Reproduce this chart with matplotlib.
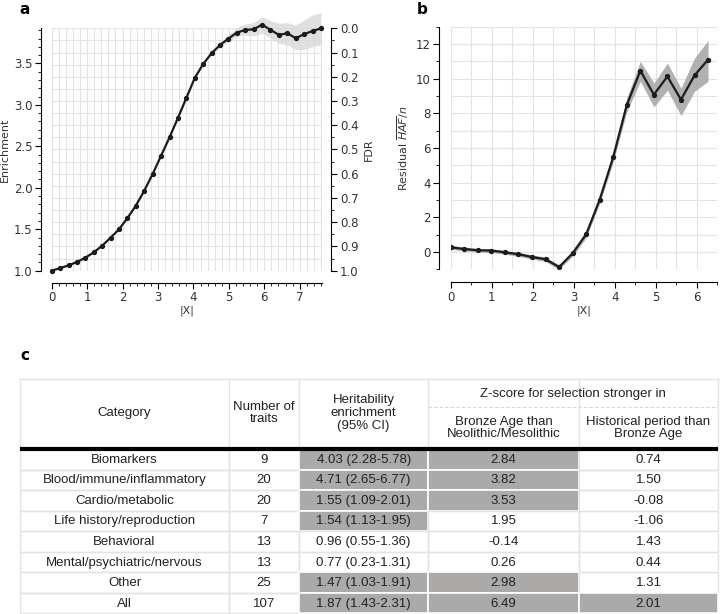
import numpy as np
import matplotlib.pyplot as plt
from matplotlib.patches import Rectangle
from matplotlib.ticker import MultipleLocator

# panel a: enrichment vs |X| (with FDR on the right)
a_x = np.linspace(0, 7.6, 33)
a_enr = [1.0, 1.032, 1.064, 1.105, 1.157, 1.221, 1.302, 1.398, 1.499, 1.635,
         1.784, 1.965, 2.166, 2.387, 2.608, 2.842, 3.083, 3.324, 3.493, 3.622,
         3.722, 3.799, 3.871, 3.903, 3.911, 3.967, 3.904, 3.843, 3.864, 3.803,
         3.852, 3.891, 3.922]
a_lo = [1.0, 1.03, 1.062, 1.103, 1.155, 1.219, 1.30, 1.396, 1.497, 1.633,
        1.782, 1.963, 2.164, 2.385, 2.605, 2.839, 3.079, 3.319, 3.486, 3.61,
        3.694, 3.762, 3.825, 3.843, 3.831, 3.863, 3.805, 3.742, 3.724, 3.666,
        3.670, 3.702, 3.724]
a_hi = [1.0, 1.034, 1.066, 1.107, 1.159, 1.223, 1.304, 1.40, 1.501, 1.637,
        1.786, 1.967, 2.168, 2.389, 2.611, 2.845, 3.087, 3.329, 3.50, 3.634,
        3.750, 3.843, 3.935, 3.975, 3.991, 4.064, 4.016, 3.983, 3.991, 3.963,
        4.024, 4.084, 4.112]
fdr_ticks = np.round(np.arange(0, 1.01, 0.1), 1)

# panel b: residual HAF/n vs |X|
b_x = np.arange(20) * 0.33
b_res = [0.27, 0.17, 0.10, 0.08, -0.02, -0.13, -0.29, -0.42, -0.87, -0.08,
         1.02, 3.02, 5.48, 8.48, 10.46, 9.08, 10.13, 8.79, 10.19, 11.1]
b_lo = [0.15, 0.06, 0.0, -0.03, -0.13, -0.25, -0.41, -0.55, -1.0, -0.25,
        0.82, 2.8, 5.2, 8.1, 9.85, 8.37, 9.33, 7.87, 9.27, 9.85]
b_hi = [0.39, 0.28, 0.20, 0.19, 0.09, -0.01, -0.17, -0.29, -0.74, 0.09,
        1.22, 3.24, 5.76, 8.9, 11.0, 9.75, 10.9, 9.46, 11.19, 12.21]

# panel c: table
categories = ['Biomarkers', 'Blood/immune/inflammatory', 'Cardio/metabolic',
              'Life history/reproduction', 'Behavioral',
              'Mental/psychiatric/nervous', 'Other', 'All']
n_traits = ['9', '20', '20', '7', '13', '13', '25', '107']
herit = ['4.03 (2.28-5.78)', '4.71 (2.65-6.77)', '1.55 (1.09-2.01)',
         '1.54 (1.13-1.95)', '0.96 (0.55-1.36)', '0.77 (0.23-1.31)',
         '1.47 (1.03-1.91)', '1.87 (1.43-2.31)']
z_bronze = ['2.84', '3.82', '3.53', '1.95', '-0.14', '0.26', '2.98', '6.49']
z_hist = ['0.74', '1.50', '-0.08', '-1.06', '1.43', '0.44', '1.31', '2.01']
herit_sig = [1, 1, 1, 1, 0, 0, 1, 1]
bronze_sig = [1, 1, 1, 0, 0, 0, 1, 1]
hist_sig = [0, 0, 0, 0, 0, 0, 0, 1]

W, H = 720, 614
fig = plt.figure(figsize=(7.2, 6.14), dpi=100)

def box(l, t, r, b):
    return [l / W, 1 - b / H, (r - l) / W, (b - t) / H]

gridc = '#e3e3e3'
linec = '#1c1c1c'
tfs = 8.5
lfs = 8

# ---- panel a
ax = fig.add_axes(box(51.7, 28.3, 321.7, 270.7))
tw = ax.twinx()
ax.set_zorder(tw.get_zorder() + 1)
ax.patch.set_visible(False)
ax.fill_between(a_x, a_lo, a_hi, color='#d9d9d9', alpha=0.8, lw=0, clip_on=False)
ax.plot(a_x, a_enr, color=linec, lw=1.6, marker='o', ms=2.8, clip_on=False)
ax.set_xlim(0, 7.62)
ax.set_ylim(1.0, 3.923)
ax.set_yticks([1.0, 1.5, 2.0, 2.5, 3.0, 3.5])
ax.yaxis.set_minor_locator(MultipleLocator(0.1))
ax.xaxis.set_major_locator(MultipleLocator(1))
ax.xaxis.set_minor_locator(MultipleLocator(0.2))
ax.grid(True, axis='x', which='both', color=gridc, lw=0.8)
tw.set_ylim(1.0, 0.0)
tw.set_yticks(fdr_ticks)
tw.yaxis.set_minor_locator(MultipleLocator(0.05))
tw.grid(True, axis='y', which='both', color=gridc, lw=0.8)
ax.set_ylabel('Enrichment', fontsize=lfs, color='#333333', labelpad=3)
ax.set_xlabel('|X|', fontsize=lfs, color='#333333', labelpad=1)
tw.set_ylabel('FDR', fontsize=lfs, color='#333333', labelpad=4)
for a in (ax, tw):
    a.set_axisbelow(True)
    a.tick_params(labelsize=tfs, length=4, width=0.8, pad=2, labelcolor='#333333')
    a.tick_params(which='minor', length=2, width=0.6)
ax.spines['left'].set_position(('outward', 8))
ax.spines['bottom'].set_position(('outward', 8.5))
tw.spines['right'].set_position(('outward', 7))
for s in ('top', 'right'):
    ax.spines[s].set_visible(False)
for s in ('top', 'left', 'bottom'):
    tw.spines[s].set_visible(False)

# ---- panel b
bx = fig.add_axes(box(450.7, 26.7, 717.5, 269.3))
bx.fill_between(b_x, b_lo, b_hi, color='#a9a9a9', alpha=0.9, lw=0)
bx.plot(b_x, b_res, color=linec, lw=1.6, marker='o', ms=2.8)
bx.set_xlim(0, 6.5)
bx.set_ylim(-1, 13)
bx.xaxis.set_major_locator(MultipleLocator(1))
bx.xaxis.set_minor_locator(MultipleLocator(0.5))
bx.yaxis.set_major_locator(MultipleLocator(2))
bx.yaxis.set_minor_locator(MultipleLocator(1))
bx.grid(True, which='both', color=gridc, lw=0.8)
bx.set_axisbelow(True)
bx.tick_params(labelsize=tfs, length=4, width=0.8, pad=2, labelcolor='#333333')
bx.tick_params(which='minor', length=2, width=0.6)
bx.set_xlabel('|X|', fontsize=lfs, color='#333333', labelpad=1)
bx.set_ylabel(r'Residual $\overline{HAF}/n$', fontsize=lfs, color='#333333', labelpad=3)
bx.spines['left'].set_position(('outward', 8.5))
bx.spines['bottom'].set_position(('outward', 9.5))
for s in ('top', 'right'):
    bx.spines[s].set_visible(False)

fig.text(25 / W, 1 - 9 / H, 'a', fontsize=11, fontweight='bold', ha='center', va='center')
fig.text(422 / W, 1 - 9 / H, 'b', fontsize=11, fontweight='bold', ha='center', va='center')
fig.text(25 / W, 1 - 356 / H, 'c', fontsize=11, fontweight='bold', ha='center', va='center')

# ---- panel c: table, drawn in pixel coordinates
tx = fig.add_axes(box(0, 0, W, H))
tx.set_xlim(0, W)
tx.set_ylim(H, 0)
tx.axis('off')
tf = dict(family=['Liberation Sans', 'DejaVu Sans'], fontsize=9.5, color='#222222',
          ha='center', va='center')
col_x = [20, 229, 299, 428.3, 579, 718]
top, zmid, hbot = 379, 407, 449
row_h = 20.55
shade = '#aca9a9'
bord = '#e4e4e4'

# header
tx.plot([col_x[0], col_x[-1]], [top, top], color=bord, lw=1)
for xv in col_x:
    tx.plot([xv, xv], [top, hbot], color=bord, lw=1)
tx.plot([col_x[3], col_x[5]], [zmid, zmid], color='#d8d8d8', lw=0.8, ls=(0, (3, 2)))
tx.text((col_x[0] + col_x[1]) / 2, 413, 'Category', **tf)
tx.text((col_x[1] + col_x[2]) / 2, 413, 'Number of\ntraits', linespacing=1.1, **tf)
tx.text((col_x[2] + col_x[3]) / 2, 413, 'Heritability\nenrichment\n(95% CI)', linespacing=1.1, **tf)
tx.text((col_x[3] + col_x[5]) / 2, 394, 'Z-score for selection stronger in', **tf)
tx.text((col_x[3] + col_x[4]) / 2, 428, 'Bronze Age than\nNeolithic/Mesolithic', linespacing=1.1, **tf)
tx.text((col_x[4] + col_x[5]) / 2, 428, 'Historical period than\nBronze Age', linespacing=1.1, **tf)

# body
cols = [categories, n_traits, herit, z_bronze, z_hist]
sig = [None, None, herit_sig, bronze_sig, hist_sig]
for i in range(len(categories)):
    y0 = hbot + i * row_h
    y1 = y0 + row_h
    for j in range(5):
        x0, x1 = col_x[j], col_x[j + 1]
        if sig[j] is not None and sig[j][i]:
            tx.add_patch(Rectangle((x0, y0), x1 - x0, y1 - y0, facecolor=shade,
                                   edgecolor='white', lw=1.2))
        else:
            tx.add_patch(Rectangle((x0, y0), x1 - x0, y1 - y0, facecolor='none',
                                   edgecolor=bord, lw=1))
        tx.text((x0 + x1) / 2, (y0 + y1) / 2 + 0.5, cols[j][i], **tf)
tx.plot([col_x[0], col_x[-1]], [hbot, hbot], color='black', lw=3, solid_capstyle='butt')

fig.savefig('out.png', dpi=100)
